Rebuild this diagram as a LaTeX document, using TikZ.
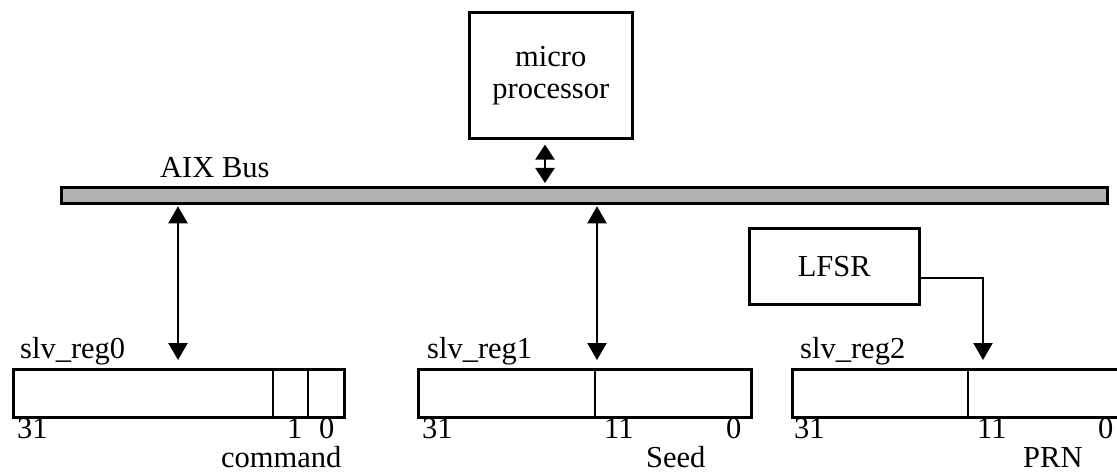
\documentclass[tikz,border=0pt]{standalone}
\usepackage{fontspec}
\setmainfont{Liberation Serif}
\usetikzlibrary{arrows.meta,calc}

\tikzset{
  unit/.style={draw, line width=2.6pt, inner sep=0pt},
  busbar/.style={draw, line width=2.8pt, fill=gray!60, inner sep=0pt},
  lbl/.style={inner sep=0pt, anchor=base west},
  cellsep/.style={line width=2.6pt},
  link/.style={line width=2.4pt, -{Triangle[length=17pt,width=19pt]}},
  biarrow/.style={line width=2.4pt, {Triangle[length=17pt,width=19pt]}-{Triangle[length=17pt,width=19pt]}},
  smallbi/.style={line width=2.4pt, {Triangle[length=15pt,width=19pt]}-{Triangle[length=15pt,width=19pt]}},
}

\begin{document}
\begin{tikzpicture}[x=1pt, y=-1pt, font=\fontsize{30.5}{34}\selectfont]
\clip (0,0) rectangle (1117,473);

% processor and bus
\node[unit, minimum width=163pt, minimum height=126pt, anchor=north west, align=center]
  (cpu) at (468,11) {micro\\[-2pt]processor};
\node[busbar, minimum width=1046pt, minimum height=16pt, anchor=north west]
  (bus) at (60,186) {};
\node[lbl] (buslbl) at (160,178) {AIX Bus};

% registers
\node[unit, minimum width=331pt, minimum height=48pt, anchor=north west] (reg0) at (12,368) {};
\node[unit, minimum width=333pt, minimum height=48pt, anchor=north west] (reg1) at (417,368) {};
\node[unit, minimum width=340pt, minimum height=48pt, anchor=north west] (reg2) at (791,368) {};

% field boundaries
\coordinate (r0a) at (273,368);
\coordinate (r0b) at (308,368);
\coordinate (r1a) at (595,368);
\coordinate (r2a) at (968,368);
\draw[cellsep] (r0a) -- (r0a |- reg0.south);
\draw[cellsep] (r0b) -- (r0b |- reg0.south);
\draw[cellsep] (r1a) -- (r1a |- reg1.south);
\draw[cellsep] (r2a) -- (r2a |- reg2.south);

% LFSR
\node[unit, minimum width=170pt, minimum height=76pt, anchor=north west] (lfsr) at (748,227) {LFSR};

% register names
\node[lbl] (n0) at (20,358) {slv\_reg0};
\node[lbl] (n1) at (427,358) {slv\_reg1};
\node[lbl] (n2) at (800,358) {slv\_reg2};

% bit numbers
\node[lbl] (b0h) at (17,438) {31};
\node[lbl] (b0m) at (287,438) {1};
\node[lbl] (b0l) at (319,438) {0};
\node[lbl] (b1h) at (422,438) {31};
\node[lbl] (b1m) at (604,438) {11};
\node[lbl] (b1l) at (726,438) {0};
\node[lbl] (b2h) at (794,438) {31};
\node[lbl] (b2m) at (977,438) {11};
\node[lbl] (b2l) at (1098,438) {0};

% field names
\node[lbl] (f0) at (221,467) {command};
\node[lbl] (f1) at (646,467) {Seed};
\node[lbl] (f2) at (1023,467) {PRN};

% connections
\coordinate (cpuend) at (545,183);
\draw[smallbi] ([yshift=-5pt]cpu.south -| cpuend) -- (cpuend);

\coordinate (a0) at (178,360);
\coordinate (a1) at (597,360);
\draw[biarrow] ([yshift=-1.5pt]bus.south -| a0) -- (a0);
\draw[biarrow] ([yshift=-1.5pt]bus.south -| a1) -- (a1);

\coordinate (a2) at (983,360);
\draw[link] ([yshift=-12pt]lfsr.east) -| (a2);
\end{tikzpicture}
\end{document}
